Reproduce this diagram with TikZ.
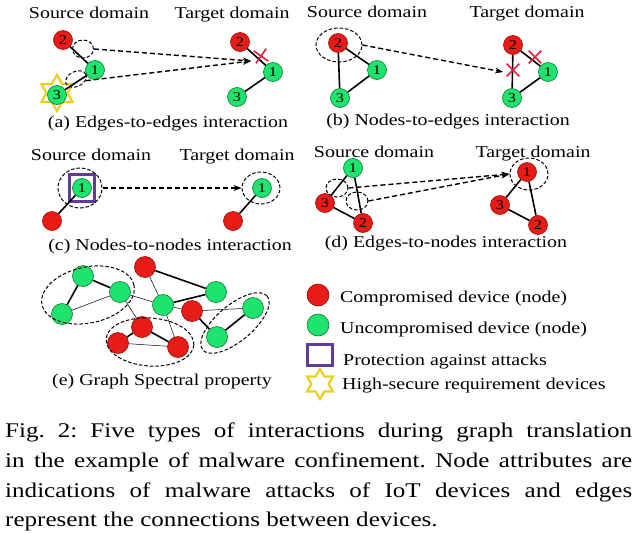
\documentclass[tikz,border=0pt]{standalone}
\usepackage{fontspec}
\setmainfont{Liberation Serif}[FakeStretch=1.2]
\usetikzlibrary{shapes.geometric,shapes.misc,arrows.meta}
\definecolor{nred}{RGB}{232,28,22}
\definecolor{nredd}{RGB}{150,12,12}
\definecolor{ngreen}{RGB}{30,228,110}
\definecolor{ngreend}{RGB}{10,120,50}
\definecolor{prot}{RGB}{95,60,150}
\definecolor{staryel}{RGB}{238,205,30}
\definecolor{xred}{RGB}{225,30,60}
\begin{document}
\frenchspacing
\begin{tikzpicture}[x=1pt,y=-1pt,
  rn/.style={circle,fill=nred,draw=nredd,line width=0.6pt,minimum size=19pt,inner sep=0pt,font=\fontsize{13.5}{13.5}\selectfont},
  gn/.style={rn,fill=ngreen,draw=ngreend},
  rbig/.style={rn,minimum size=21pt},
  gbig/.style={gn,minimum size=21pt},
  edge/.style={line width=1.6pt},
  thin/.style={line width=0.5pt},
  arr/.style={line width=1.4pt,dash pattern=on 5pt off 3pt,-{Stealth[length=8pt,width=6pt]}},
  dell/.style={ellipse,draw,line width=1pt,dash pattern=on 3.5pt off 2pt,inner sep=0pt},
  xmark/.style={cross out,draw=xred,line width=1.6pt,minimum size=11pt,inner sep=0pt},
  hstar/.style={star,star points=6,star point ratio=1.73,draw=staryel,line width=2.2pt,fill=white,inner sep=0pt},
  protbox/.style={draw=prot,line width=2.6pt,inner sep=0pt},
  lbl/.style={font=\fontsize{16.6}{20}\selectfont,inner sep=0pt,anchor=base},
  lgd/.style={font=\fontsize{16.6}{20}\selectfont,inner sep=0pt,anchor=base west},
  capl/.style={font=\fontsize{20.9}{24}\selectfont,inner sep=0pt,anchor=base west}
]
\useasboundingbox (0,0) rectangle (635,533);

% ---------- (a) ----------
\node[lbl] (ah1) at (89,18) {Source domain};
\node[lbl] (ah2) at (232,18) {Target domain};
\node[hstar,minimum size=36pt] (astar) at (57,93) {};
\node[rn] (a2) at (63,40) {2};
\node[gn] (a1) at (95,70) {1};
\node[gn] (a3) at (57,95) {3};
\draw[edge] (a2) -- (a1);
\draw[edge] (a1) -- (a3);
\node[dell,minimum width=21pt,minimum height=18pt] (ae1) at (83,49) {};
\node[dell,minimum width=22pt,minimum height=15pt,rotate=25] (ae2) at (76,79) {};
\node[rn] (at2) at (240,42) {2};
\node[gn] (at1) at (273,72) {1};
\node[gn] (at3) at (237,97) {3};
\draw[edge] (at2) -- (at1);
\draw[edge] (at1) -- (at3);
\node[xmark,rotate=10] (ax) at (261,56) {};
\coordinate (atip) at (251,61);
\draw[arr] (ae1.east) -- (atip);
\draw[arr] (ae2.south east) -- (atip);
\node[lbl] (acap) at (168,127) {(a) Edges-to-edges interaction};

% ---------- (b) ----------
\node[lbl] (bh1) at (367,17) {Source domain};
\node[lbl] (bh2) at (527,17) {Target domain};
\node[rn] (b2) at (338,43) {2};
\node[gn] (b1) at (377,70) {1};
\node[gn] (b3) at (340,98) {3};
\draw[edge] (b2) -- (b1);
\draw[edge] (b2) -- (b3);
\draw[edge] (b1) -- (b3);
\node[dell,minimum width=46pt,minimum height=34pt] (be) at (339,45) {};
\node[rn] (bt2) at (513,45) {2};
\node[gn] (bt1) at (548,72) {1};
\node[gn] (bt3) at (512,98) {3};
\draw[edge] (bt2) -- (bt1);
\draw[edge] (bt2) -- (bt3);
\draw[edge] (bt1) -- (bt3);
\node[xmark] (bx1) at (513,70) {};
\node[xmark] (bx2) at (535,57) {};
\coordinate (btip) at (503,72);
\draw[arr] (be.east) -- (btip);
\node[lbl] (bcap) at (448,125) {(b) Nodes-to-edges interaction};

% ---------- (c) ----------
\node[lbl] (ch1) at (91,160) {Source domain};
\node[lbl] (ch2) at (237,160) {Target domain};
\node[gn] (c1) at (82,188) {1};
\node[protbox,minimum width=25pt,minimum height=27pt] (csq) at (82,188) {};
\node[rn] (cr) at (52,221) {};
\draw[edge] (c1) -- (cr);
\node[dell,minimum width=44pt,minimum height=40pt] (ce) at (80,188) {};
\node[gn] (ct1) at (262,188) {1};
\node[rn] (ctr) at (233,221) {};
\draw[edge] (ct1) -- (ctr);
\node[dell,minimum width=38pt,minimum height=32pt] (cte) at (261,188) {};
\draw[arr] (ce.east) -- (cte.west);
\node[lbl] (ccap) at (170,250) {(c) Nodes-to-nodes interaction};

% ---------- (d) ----------
\node[lbl] (dh1) at (374,157) {Source domain};
\node[lbl] (dh2) at (533,157) {Target domain};
\node[gn] (d1) at (353,168) {1};
\node[rn] (d3) at (325,203) {3};
\node[rn] (d2) at (363,223) {2};
\draw[edge] (d1) -- (d3);
\draw[edge] (d1) -- (d2);
\draw[edge] (d3) -- (d2);
\node[dell,minimum width=22pt,minimum height=18pt] (de1) at (337,188) {};
\node[dell,minimum width=22pt,minimum height=18pt] (de2) at (357,201) {};
\node[rn] (dt1) at (527,172) {1};
\node[rn] (dt3) at (500,205) {3};
\node[rn] (dt2) at (538,225) {2};
\draw[edge] (dt1) -- (dt3);
\draw[edge] (dt1) -- (dt2);
\draw[edge] (dt3) -- (dt2);
\node[dell,minimum width=38pt,minimum height=32pt] (dte) at (529,174) {};
\draw[arr] (de1.east) -- (dte.west);
\draw[arr] (de2.east) -- (dte.west);
\node[lbl] (dcap) at (446,247) {(d) Edges-to-nodes interaction};

% ---------- (e) ----------
\node[gbig] (eA) at (83,276) {};
\node[gbig] (eB) at (120,292) {};
\node[gbig] (eC) at (62,314) {};
\node[rbig] (eD) at (145,267) {};
\node[gbig] (eE) at (216,292) {};
\node[gbig] (eF) at (163,305) {};
\node[rbig] (eG) at (192,311) {};
\node[gbig] (eH) at (253,308) {};
\node[rbig] (eI) at (142,327) {};
\node[rbig] (eJ) at (118,343) {};
\node[rbig] (eK) at (178,347) {};
\node[gbig] (eL) at (217,337) {};
\draw[edge] (eA) -- (eB);
\draw[edge] (eA) -- (eC);
\draw[thin] (eC) -- (eB);
\draw[thin] (eB) -- (eF);
\draw[thin] (eB) -- (eI);
\draw[thin] (eD) -- (eF);
\draw[edge] (eD) -- (eE);
\draw[edge] (eF) -- (eE);
\draw[thin] (eF) -- (eK);
\draw[thin] (eF) -- (eG);
\draw[thin] (eG) -- (eH);
\draw[edge] (eG) -- (eL);
\draw[edge] (eL) -- (eH);
\draw[edge] (eJ) -- (eI);
\draw[edge] (eI) -- (eK);
\draw[thin] (eJ) -- (eK);
\node[dell,minimum width=94pt,minimum height=56pt,rotate=12] (eE1) at (88,295) {};
\node[dell,minimum width=88pt,minimum height=48pt,rotate=-4] (eE2) at (150,342) {};
\node[dell,minimum width=84pt,minimum height=36pt,rotate=40] (eE3) at (235,323) {};
\node[lbl] (ecap) at (162,385) {(e) Graph Spectral property};

% ---------- legend ----------
\node[rn,minimum size=22pt] (lr) at (318,295) {};
\node[lgd] (lrt) at (340,302) {Compromised device (node)};
\node[gn,minimum size=22pt] (lg) at (318,325) {};
\node[lgd] (lgt) at (340,333) {Uncompromised device (node)};
\node[protbox,minimum width=25pt,minimum height=21pt] (lsq) at (320,355) {};
\node[lgd] (lst) at (343,365) {Protection against attacks};
\node[hstar,minimum size=30pt] (lstar) at (320,384) {};
\node[lgd] (lstt) at (342,389) {High-secure requirement devices};

% ---------- caption ----------
\node[capl] (cap1) at (5,437) {\makebox[627pt][s]{Fig. 2: Five types of interactions during graph translation}};
\node[capl] (cap2) at (5,467) {\makebox[627pt][s]{in the example of malware confinement. Node attributes are}};
\node[capl] (cap3) at (5,497) {\makebox[627pt][s]{indications of malware attacks of IoT devices and edges}};
\node[capl] (cap4) at (5,526) {represent the connections between devices.};
\end{tikzpicture}
\end{document}
